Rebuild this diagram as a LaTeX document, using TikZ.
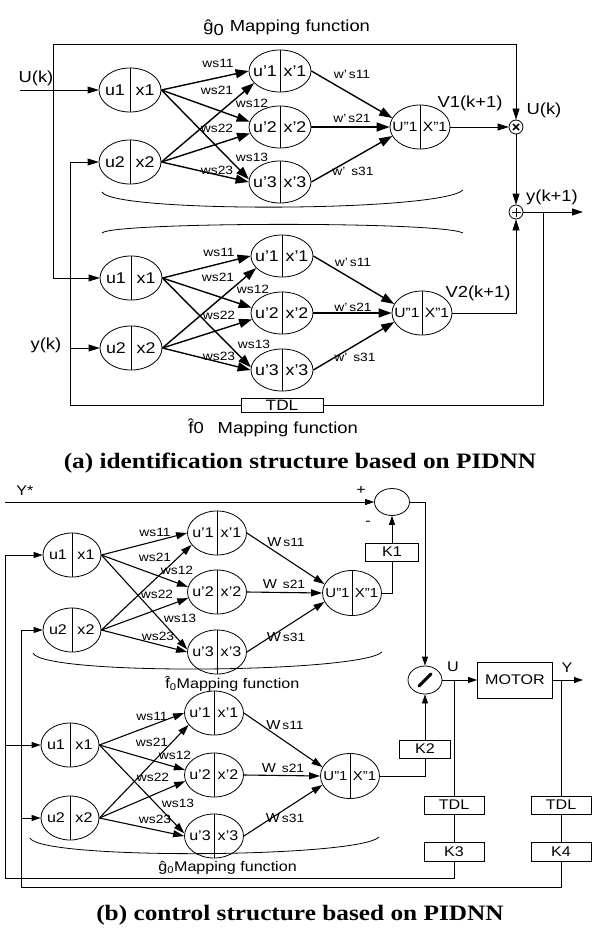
\documentclass[tikz,border=0pt]{standalone}
\usepackage{fontspec}
\setmainfont{Liberation Sans}[FakeStretch=1.15]
\newfontfamily\capfont{Liberation Serif}[FakeStretch=1.15]
\usetikzlibrary{arrows.meta,calc,shapes.geometric}
\newcommand{\mkneuron}[6]{%
  \node[#5] (#1) at (#2) {};
  \draw (#1.north) -- (#1.south);
  \node[ntxt] (#1l) at ([xshift=-#6]#1.center) {#3};
  \node[ntxt] (#1r) at ([xshift=#6]#1.center) {#4};
}
\begin{document}
\begin{tikzpicture}[x=1pt,y=-1pt,line width=0.8pt,
  inA/.style={ellipse,draw,minimum width=62pt,minimum height=44pt,inner sep=0pt},
  hidA/.style={ellipse,draw,minimum width=62pt,minimum height=42pt,inner sep=0pt},
  outA/.style={ellipse,draw,minimum width=60pt,minimum height=44pt,inner sep=0pt},
  inB/.style={ellipse,draw,minimum width=58pt,minimum height=44pt,inner sep=0pt},
  hidB/.style={ellipse,draw,minimum width=59pt,minimum height=44pt,inner sep=0pt},
  outB/.style={ellipse,draw,minimum width=59pt,minimum height=45pt,inner sep=0pt},
  ntxt/.style={inner sep=0pt,font=\fontsize{15.5}{15.5}\selectfont},
  wt/.style={inner sep=0pt,font=\fontsize{12}{12}\selectfont},
  lbl/.style={inner sep=0pt,font=\fontsize{16}{16}\selectfont},
  lblB/.style={inner sep=0pt,font=\fontsize{14}{14}\selectfont},
  boxA/.style={draw,minimum width=82pt,minimum height=14pt,inner sep=0pt,font=\fontsize{15}{15}\selectfont},
  boxB/.style={draw,minimum width=58pt,minimum height=18pt,inner sep=0pt,font=\fontsize{14}{14}\selectfont},
  captext/.style={inner sep=0pt,font=\capfont\bfseries\fontsize{22}{22}\selectfont},
  netA/.style={line width=1.4pt,-{Triangle[length=13pt,width=9pt]}},
  sigA/.style={line width=0.8pt,-{Triangle[length=11pt,width=7pt]}},
  netB/.style={line width=1.1pt,-{Triangle[length=11pt,width=7pt]}},
  sigB/.style={line width=0.8pt,-{Triangle[length=9pt,width=6pt]}}]
\useasboundingbox (0,0) rectangle (592,928);

% ================= (a) =================
\node[lbl,anchor=west] (g0top) at (203,28) {\^g\raisebox{-4pt}{0}\hspace{6pt}Mapping function};
\mkneuron{au1}{130,90}{u1}{x1}{inA}{15pt}
\mkneuron{au2}{130,162}{u2}{x2}{inA}{15pt}
\mkneuron{ah1}{280,71}{u’1}{x’1}{hidA}{15pt}
\mkneuron{ah2}{280,127}{u’2}{x’2}{hidA}{15pt}
\mkneuron{ah3}{280,182}{u’3}{x’3}{hidA}{15pt}
\begin{scope}[ntxt/.style={inner sep=0pt,font=\fontsize{13.5}{13.5}\selectfont}]
\mkneuron{ao}{420,127}{U”1}{X”1}{outA}{15pt}
\end{scope}
\mkneuron{bu1}{131,278}{u1}{x1}{inA}{15pt}
\mkneuron{bu2}{131,348}{u2}{x2}{inA}{15pt}
\mkneuron{bh1}{282,256}{u’1}{x’1}{hidA}{15pt}
\mkneuron{bh2}{282,313}{u’2}{x’2}{hidA}{15pt}
\mkneuron{bh3}{282,370}{u’3}{x’3}{hidA}{15pt}
\begin{scope}[ntxt/.style={inner sep=0pt,font=\fontsize{13.5}{13.5}\selectfont}]
\mkneuron{bo}{422,313}{U”1}{X”1}{outA}{15pt}
\end{scope}

% network arrows (a)
\foreach \n in {a,b}{
  \draw[netA] (\n u1.east) -- (\n h1.west);
  \draw[netA] (\n u1.east) -- (\n h2.170);
  \draw[netA] (\n u1.east) -- (\n h3.175);
  \draw[netA] (\n u2.east) -- (\n h1.205);
  \draw[netA] (\n u2.east) -- (\n h2.192);
  \draw[netA] (\n u2.east) -- (\n h3.west);
  \draw[netA] (\n h1.east) -- (\n o.162);
  \draw[netA] (\n h2.east) -- (\n o.west);
  \draw[netA] (\n h3.east) -- (\n o.198);
}
% weights (a)
\node[wt] (wa1) at (218,63) {ws11};
\node[wt] (wa2) at (217,90) {ws21};
\node[wt] (wa3) at (252,103) {ws12};
\node[wt] (wa4) at (217,128) {ws22};
\node[wt] (wa5) at (252,157) {ws13};
\node[wt] (wa6) at (217,170) {ws23};
\node[wt] (wa7) at (352,74) {w’\,s11};
\node[wt] (wa8) at (352,118) {w’\,s21};
\node[wt] (wa9) at (353,171) {w’\, s31};
\node[wt] (wb1) at (219,252) {ws11};
\node[wt] (wb2) at (218,277) {ws21};
\node[wt] (wb3) at (253,289) {ws12};
\node[wt] (wb4) at (219,315) {ws22};
\node[wt] (wb5) at (254,344) {ws13};
\node[wt] (wb6) at (219,356) {ws23};
\node[wt] (wb7) at (353,262) {w’\,s11};
\node[wt] (wb8) at (353,307) {w’\,s21};
\node[wt] (wb9) at (355,357) {w’\, s31};

% braces (a)
\draw (102,192) .. controls (112,213) and (440,212) .. (463,190);
\draw (102,233) .. controls (112,222) and (440,221) .. (463,233);

% signals (a)
\node[lbl] (Uk) at (36,78) {U(k)};
\coordinate (ukin) at (20,90);
\draw[sigA] (ukin) -- (au1.west);
\coordinate (tl) at (53,44);
\node[circle,draw,minimum size=14pt,inner sep=0pt] (mult) at (516,127) {};
\draw[line width=1.6pt] ($(mult)+(-3,-3)$) -- ($(mult)+(3,3)$);
\draw[line width=1.6pt] ($(mult)+(-3,3)$) -- ($(mult)+(3,-3)$);
\draw[sigA] (tl) -| (mult.north);
\draw[sigA] (tl) |- (bu1.west);
\node[lbl] (Uk2) at (544,110) {U(k)};
\node[lbl] (V1) at (470,103) {V1(k+1)};
\draw[sigA] (ao.east) -- (mult.west);
\node[circle,draw,minimum size=14pt,inner sep=0pt] (plus) at (516,212) {};
\draw ($(plus)+(-4.5,0)$) -- ($(plus)+(4.5,0)$);
\draw ($(plus)+(0,-4.5)$) -- ($(plus)+(0,4.5)$);
\draw[sigA] (mult.south) -- (plus.north);
\coordinate (yout) at (583,212);
\draw[sigA] (plus.east) -- (yout);
\node[lbl] (ykp) at (552,197) {y(k+1)};
\draw[sigA] (bo.east) -| (plus.south);
\node[lbl] (V2) at (478,293) {V2(k+1)};
\node[boxA] (tdlA) at (282,405) {TDL};
\coordinate (fbR) at (543,212);
\coordinate (fbRb) at (543,405);
\coordinate (fbL) at (70,405);
\draw (fbR) -- (fbRb) -- (tdlA.east);
\draw[sigA] (tdlA.west) -- (fbL) |- (au2.west);
\coordinate (yk) at (70,348);
\draw[sigA] (yk) -- (bu2.west);
\node[lbl] (ykl) at (46,345) {y(k)};
\node[lbl,anchor=west] (f0a) at (188,428) {\^f0\hspace{14pt}Mapping function};
\node[captext] (capA) at (300,463) {(a) identification structure based on PIDNN};

% ================= (b) =================
\begin{scope}[ntxt/.style={inner sep=0pt,font=\fontsize{14}{14}\selectfont}]
\mkneuron{cu1}{72,555}{u1}{x1}{inB}{14pt}
\mkneuron{cu2}{72,630}{u2}{x2}{inB}{14pt}
\mkneuron{ch1}{217,533}{u’1}{x’1}{hidB}{14pt}
\mkneuron{ch2}{217,592}{u’2}{x’2}{hidB}{14pt}
\mkneuron{ch3}{217,652}{u’3}{x’3}{hidB}{14pt}
\mkneuron{du1}{70,745}{u1}{x1}{inB}{14pt}
\mkneuron{du2}{70,818}{u2}{x2}{inB}{14pt}
\mkneuron{dh1}{214,713}{u’1}{x’1}{hidB}{14pt}
\mkneuron{dh2}{214,775}{u’2}{x’2}{hidB}{14pt}
\mkneuron{dh3}{214,836}{u’3}{x’3}{hidB}{14pt}
\end{scope}
\begin{scope}[ntxt/.style={inner sep=0pt,font=\fontsize{13}{13}\selectfont}]
\mkneuron{co}{352,593}{U”1}{X”1}{outB}{14.5pt}
\mkneuron{do}{350,776}{U”1}{X”1}{outB}{14.5pt}
\end{scope}
\foreach \n in {c,d}{
  \draw[netB] (\n u1.east) -- (\n h1.west);
  \draw[netB] (\n u1.east) -- (\n h2.170);
  \draw[netB] (\n u1.east) -- (\n h3.175);
  \draw[netB] (\n u2.east) -- (\n h1.205);
  \draw[netB] (\n u2.east) -- (\n h2.192);
  \draw[netB] (\n u2.east) -- (\n h3.west);
  \draw[netB] (\n h1.east) -- (\n o.162);
  \draw[netB] (\n h2.east) -- (\n o.west);
  \draw[netB] (\n h3.east) -- (\n o.198);
}
\node[wt] (wc1) at (155,532) {ws11};
\node[wt] (wc2) at (155,557) {ws21};
\node[wt] (wc3) at (177,570) {ws12};
\node[wt] (wc4) at (157,594) {ws22};
\node[wt] (wc5) at (180,618) {ws13};
\node[wt] (wc6) at (158,636) {ws23};
\node[wt] (wc7) at (286,542) {{\fontsize{13}{13}\selectfont W}\,s11};
\node[wt] (wc8) at (284,584) {{\fontsize{13}{13}\selectfont W}\ \,s21};
\node[wt] (wc9) at (286,637) {{\fontsize{13}{13}\selectfont W}\,s31};
\node[wt] (wd1) at (152,716) {ws11};
\node[wt] (wd2) at (152,742) {ws21};
\node[wt] (wd3) at (175,755) {ws12};
\node[wt] (wd4) at (153,777) {ws22};
\node[wt] (wd5) at (178,803) {ws13};
\node[wt] (wd6) at (155,819) {ws23};
\node[wt] (wd7) at (285,725) {{\fontsize{13}{13}\selectfont W}\,s11};
\node[wt] (wd8) at (283,768) {{\fontsize{13}{13}\selectfont W}\ \,s21};
\node[wt] (wd9) at (285,818) {{\fontsize{13}{13}\selectfont W}\,s31};

\draw (33,653) .. controls (43,676) and (360,673) .. (382,652);
\draw (30,838) .. controls (40,860) and (358,858) .. (379,837);
\node[lblB,anchor=west] (f0b) at (165,684) {\^f\textsubscript{0}Mapping function};
\node[lblB,anchor=west] (g0b) at (158,868) {\^g\textsubscript{0}Mapping function};

% control loop
\node[lblB] (ystar) at (25,491) {Y*};
\coordinate (ysin) at (5,502);
\node[ellipse,draw,minimum width=35pt,minimum height=27pt,inner sep=0pt] (sum) at (392,502) {};
\draw[sigB] (ysin) -- (sum.west);
\node[lblB] (pl) at (361,490) {+};
\node[lblB] (mi) at (368,523) {-};
\node[boxB,minimum width=53pt] (K1) at (392,552) {K1};
\draw[sigB] (K1.north) -- (sum.south);
\draw (co.east) -| (K1.south);
\node[ellipse,draw,minimum width=34pt,minimum height=28pt,inner sep=0pt] (div) at (425,680) {};
\draw[line width=3pt,line cap=round] ($(div)+(-6,6)$) -- ($(div)+(6,-6)$);
\draw[sigB] (sum.east) -| (div.north);
\node[boxB,minimum width=51pt] (K2) at (425,749) {K2};
\draw[sigB] (K2.north) -- (div.south);
\draw (do.east) -| (K2.south);
\node[boxB,minimum width=75pt,minimum height=36pt] (motor) at (515,680) {MOTOR};
\draw[sigB] (div.east) -- (motor.west);
\node[lblB] (Ul) at (453,667) {U};
\node[lblB] (Yl) at (567,668) {Y};
\coordinate (Yend) at (583,680);
\draw[sigB] (motor.east) -- (Yend);
\coordinate (Utap) at (454,680);
\coordinate (Ytap) at (561,680);
\node[boxB,minimum width=60pt] (tdl1) at (454,805) {TDL};
\node[boxB,minimum width=60pt,minimum height=19pt] (K3) at (454,852) {K3};
\node[boxB,minimum width=60pt] (tdl2) at (561,805) {TDL};
\node[boxB,minimum width=60pt,minimum height=19pt] (K4) at (561,852) {K4};
\draw (Utap) -- (tdl1.north);
\draw (tdl1.south) -- (K3.north);
\draw (Ytap) -- (tdl2.north);
\draw (tdl2.south) -- (K4.north);
\coordinate (ub) at (454,878);
\coordinate (ul) at (5,878);
\coordinate (ul2) at (5,745);
\draw[sigB] (K3.south) -- (ub) -- (ul) |- (cu1.west);
\draw[sigB] (ul2) -- (du1.west);
\coordinate (yb) at (561,887);
\coordinate (yl) at (21,887);
\coordinate (yl2) at (21,818);
\draw[sigB] (K4.south) -- (yb) -- (yl) |- (cu2.west);
\draw[sigB] (yl2) -- (du2.west);
\node[captext] (capB) at (300,915) {(b) control structure based on PIDNN};
\end{tikzpicture}
\end{document}
